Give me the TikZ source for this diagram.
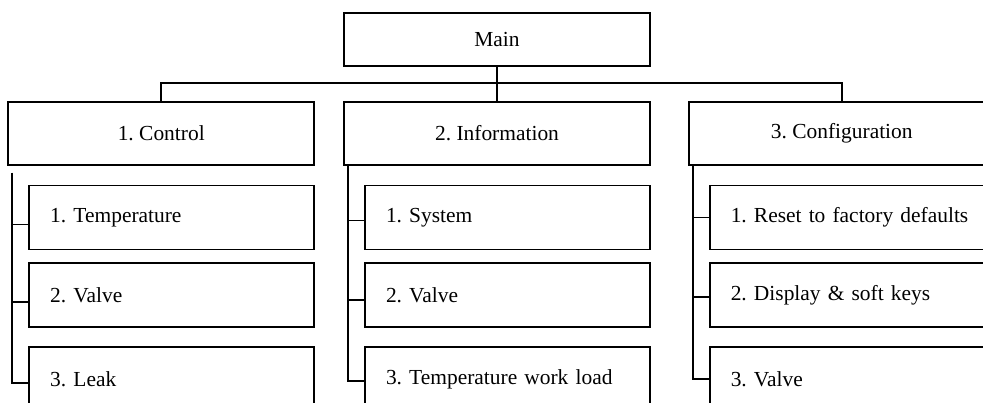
\documentclass[tikz,border=0pt]{standalone}
\usepackage{fontspec}
\setmainfont{Liberation Serif}
\usetikzlibrary{positioning,calc}
\frenchspacing
\tikzset{
  mainbox/.style={rectangle,draw,line width=1pt,minimum width=6.12cm,minimum height=1.06cm,inner sep=0pt},
  groupbox/.style={rectangle,draw,line width=1pt,minimum width=6.12cm,minimum height=1.26cm,inner sep=0pt},
  itembox/.style={rectangle,draw,line width=1pt,text width=4.86cm,inner xsep=0.42cm,inner ysep=0pt,minimum height=1.28cm,align=left},
  link/.style={line width=1pt}
}

\begin{document}
\begin{tikzpicture}[font=\fontsize{12.2}{14}\selectfont]
\useasboundingbox (0,0) rectangle (19.66,-8.06);
\node[mainbox] (main) at (9.94,-0.79) {Main};
\node[groupbox,below=0.68cm of main] (info) {2. Information};
\node[groupbox,left=0.56cm of info] (ctrl) {1. Control};
\node[groupbox,right=0.74cm of info] (conf) {3. Configuration};

% control menu
\node[itembox,below left=0.38cm and 0pt of ctrl.south east] (c1) {1. Temperature};
\node[itembox,below=0.24cm of c1] (c2) {2. Valve};
\node[itembox,below=0.36cm of c2] (c3) {3. Leak};

% information menu
\node[itembox,below left=0.38cm and 0pt of info.south east] (i1) {1. System};
\node[itembox,below=0.24cm of i1] (i2) {2. Valve};
\node[itembox,below=0.36cm of i2] (i3) {3. Temperature work load};

% configuration menu
\node[itembox,below left=0.38cm and 0pt of conf.south east] (f1) {1. Reset to factory defaults};
\node[itembox,below=0.24cm of f1] (f2) {2. Display \& soft keys};
\node[itembox,below=0.36cm of f2] (f3) {3. Valve};

\draw[link] (main.south) -- (main.south |- info.north);
\draw[link] (ctrl.north) -- ++(0,0.36) -| (conf.north);

\draw[link] ([yshift=-0.14cm]c1.west) -- ++(-0.32,0);
\draw[link] ([yshift=-0.14cm]c2.west) -- ++(-0.32,0);
\draw[link] ($(c1.west |- ctrl.south)+(-0.32,-0.14)$) |- ([yshift=-0.08cm]c3.west);

\draw[link] ([yshift=-0.06cm]i1.west) -- ++(-0.32,0);
\draw[link] ([yshift=-0.1cm]i2.west) -- ++(-0.32,0);
\draw[link] ($(i1.west |- info.south)+(-0.32,0)$) |- ([yshift=-0.04cm]i3.west);

\draw[link] (f1.west) -- ++(-0.32,0);
\draw[link] ([yshift=-0.04cm]f2.west) -- ++(-0.32,0);
\draw[link] ($(f1.west |- conf.south)+(-0.32,0)$) |- (f3.west);

\end{tikzpicture}
\end{document}
